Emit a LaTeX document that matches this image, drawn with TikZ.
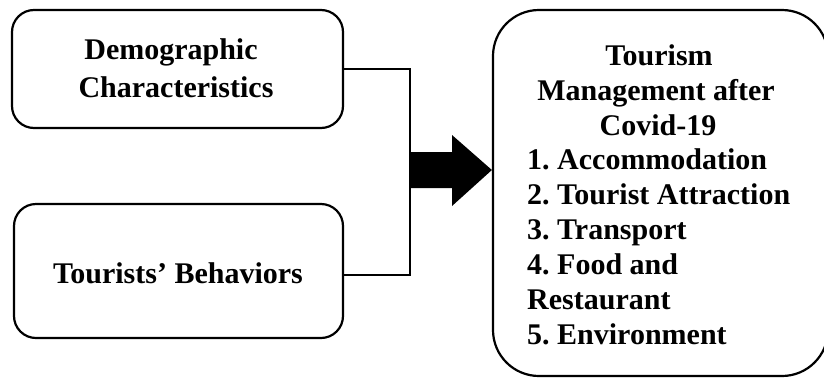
\documentclass[tikz,border=0pt]{standalone}
\usepackage{fontspec}
\setmainfont{Liberation Serif}
\begin{document}
\frenchspacing
\begin{tikzpicture}[x=1pt,y=-1pt,
  box/.style={draw, line width=2.2pt, inner sep=0pt},
  txt/.style={font=\bfseries\fontsize{30}{35}\selectfont, inner sep=0pt, anchor=base},
  item/.style={txt, anchor=base west},
  conn/.style={line width=2.8pt, line join=miter}]
\useasboundingbox (0,0) rectangle (824,378);
% boxes
\node[box, rounded corners=22pt, minimum width=331pt, minimum height=118pt] (demo) at (177.5,69) {};
\node[box, rounded corners=22pt, minimum width=329pt, minimum height=134pt] (beh) at (178.5,271) {};
\node[box, rounded corners=46pt, minimum width=335pt, minimum height=366pt] (tm) at (660.5,193) {};
% texts
\node[txt] (d1) at (171,59) {Demographic};
\node[txt] (d2) at (176,97) {Characteristics};
\node[txt] (b1) at (178,283) {Tourists’ Behaviors};
\node[txt] (h1) at (659,65) {Tourism};
\node[txt] (h2) at (656,100) {Management after};
\node[txt] (h3) at (658,135) {Covid-19};
\node[item] (l1) at (527,169) {1. Accommodation};
\node[item] (l2) at (527,204) {2. Tourist Attraction};
\node[item] (l3) at (527,239) {3. Transport};
\node[item] (l4) at (527,274) {4. Food and};
\node[item] (l5) at (527,309) {Restaurant};
\node[item] (l6) at (527,344) {5. Environment};
% connector
\coordinate (jx) at (410,69);
\coordinate (jy) at (410,275);
\coordinate (aj) at (410,170);
\draw[conn] (demo.east) -- (jx) -- (jy) -- ([yshift=-4pt]beh.east);
% block arrow
\fill (410,152) -- (452,152) -- (452,135) -- (tm.west |- aj) -- (452,206) -- (452,188) -- (410,188) -- cycle;
\end{tikzpicture}
\end{document}
